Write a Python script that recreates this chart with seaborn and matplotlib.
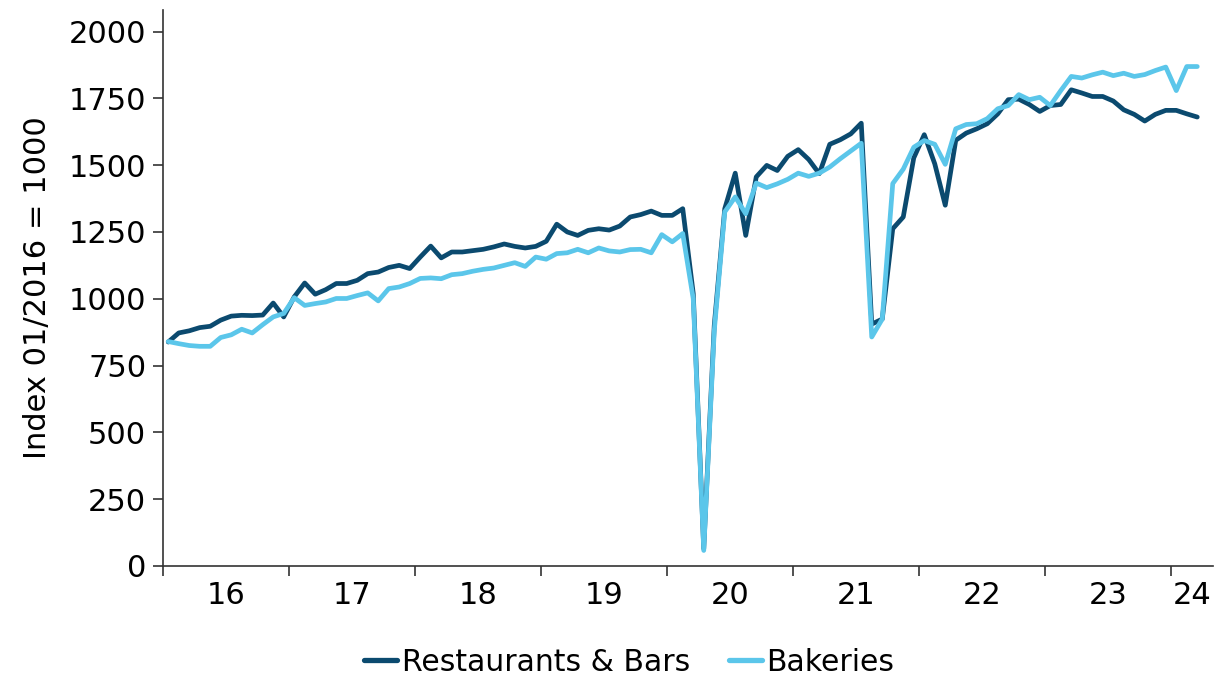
import numpy as np
import pandas as pd
import matplotlib
matplotlib.use("Agg")
import matplotlib.pyplot as plt
import seaborn as sns

# Monthly index values, January 2016 to March 2024 (01/2016 = 1000 base)
restaurants_bars = [
    838, 872, 880, 892, 897, 920, 935, 938, 937, 939, 984, 932,   # 2016
    1007, 1059, 1017, 1034, 1057, 1057, 1069, 1094, 1100, 1117, 1125, 1113,  # 2017
    1156, 1197, 1153, 1175, 1175, 1180, 1185, 1194, 1205, 1196, 1190, 1196,  # 2018
    1215, 1279, 1250, 1237, 1256, 1262, 1257, 1272, 1306, 1315, 1328, 1312,  # 2019
    1312, 1337, 1020, 65, 900, 1337, 1470, 1237, 1456, 1499, 1480, 1533,     # 2020
    1558, 1521, 1468, 1578, 1595, 1617, 1657, 905, 924, 1262, 1306, 1527,    # 2021
    1614, 1505, 1350, 1593, 1620, 1636, 1655, 1692, 1745, 1747, 1727, 1701,  # 2022
    1723, 1727, 1782, 1770, 1757, 1757, 1740, 1707, 1690, 1665, 1690, 1705,  # 2023
    1705, 1692, 1680,                                                         # 2024
]
bakeries = [
    840, 832, 825, 822, 822, 855, 865, 886, 872, 903, 932, 945,   # 2016
    1004, 975, 982, 988, 1001, 1001, 1012, 1022, 992, 1038, 1044, 1057,  # 2017
    1076, 1078, 1075, 1090, 1094, 1103, 1110, 1115, 1125, 1135, 1121, 1156,  # 2018
    1148, 1169, 1172, 1185, 1172, 1190, 1179, 1175, 1184, 1185, 1172, 1240,  # 2019
    1213, 1244, 1000, 58, 880, 1325, 1381, 1318, 1433, 1416, 1430, 1447,     # 2020
    1470, 1458, 1470, 1493, 1524, 1553, 1582, 857, 924, 1431, 1485, 1567,    # 2021
    1592, 1578, 1503, 1636, 1652, 1655, 1674, 1711, 1723, 1764, 1745, 1754,  # 2022
    1723, 1779, 1832, 1826, 1838, 1848, 1835, 1844, 1832, 1839, 1854, 1867,  # 2023
    1779, 1869, 1869,                                                         # 2024
]
series_names = ["Restaurants & Bars", "Bakeries"]
series_colors = ["#0b4a6f", "#5bc6ea"]
year_labels = ["16", "17", "18", "19", "20", "21", "22", "23", "24"]
y_ticks = [0, 250, 500, 750, 1000, 1250, 1500, 1750, 2000]

n_months = len(restaurants_bars)
month_pos = np.arange(n_months) + 0.5  # centre of each monthly slot

df = pd.DataFrame({
    "month": np.concatenate([month_pos, month_pos]),
    "value": restaurants_bars + bakeries,
    "series": [series_names[0]] * n_months + [series_names[1]] * n_months,
})

sns.set_theme(style="white")
plt.rcParams["font.family"] = ["DejaVu Sans"]

fig = plt.figure(figsize=(12.29, 6.77), dpi=100)
ax = fig.add_axes([0.1326, 0.164, 0.8544, 0.821])

sns.lineplot(
    data=df, x="month", y="value", hue="series",
    hue_order=series_names, palette=series_colors,
    linewidth=3.4, ax=ax, legend=False,
)

# x axis: year boundaries as tick marks, year labels centred in each year
total_slots = 100
ax.set_xlim(0, total_slots)
year_starts = np.arange(0, total_slots, 12)
ax.set_xticks(year_starts)
ax.set_xticklabels([])
label_pos = [min(s + 6, (s + total_slots) / 2) for s in year_starts]
ax.set_xticks(label_pos, minor=True)
ax.set_xticklabels(year_labels, minor=True)
ax.tick_params(axis="x", which="major", direction="out", length=7,
               width=1.2, color="#333333", bottom=True)
ax.tick_params(axis="x", which="minor", length=0, labelsize=22,
               pad=11, labelcolor="#000000", bottom=True)

ax.set_ylim(0, 2080)
ax.set_yticks(y_ticks)
ax.set_yticklabels([str(v) for v in y_ticks])
ax.tick_params(axis="y", direction="out", length=7, width=1.2,
               color="#333333", labelsize=22, labelcolor="#000000", left=True, pad=5)

ax.set_xlabel("")
ax.set_ylabel("Index 01/2016 = 1000", fontsize=22, color="#000000", labelpad=12)

for side in ("top", "right"):
    ax.spines[side].set_visible(False)
for side in ("left", "bottom"):
    ax.spines[side].set_color("#333333")
    ax.spines[side].set_linewidth(1.2)

handles = [plt.Line2D([], [], color=c, lw=3.8) for c in series_colors]
fig.legend(handles, series_names, loc="center", bbox_to_anchor=(0.512, 0.022),
           ncol=2, frameon=False, fontsize=21.5, handlelength=1.1,
           handletextpad=0.15, columnspacing=1.3, labelcolor="#000000")

fig.savefig("out.png", dpi=100, facecolor="white")
